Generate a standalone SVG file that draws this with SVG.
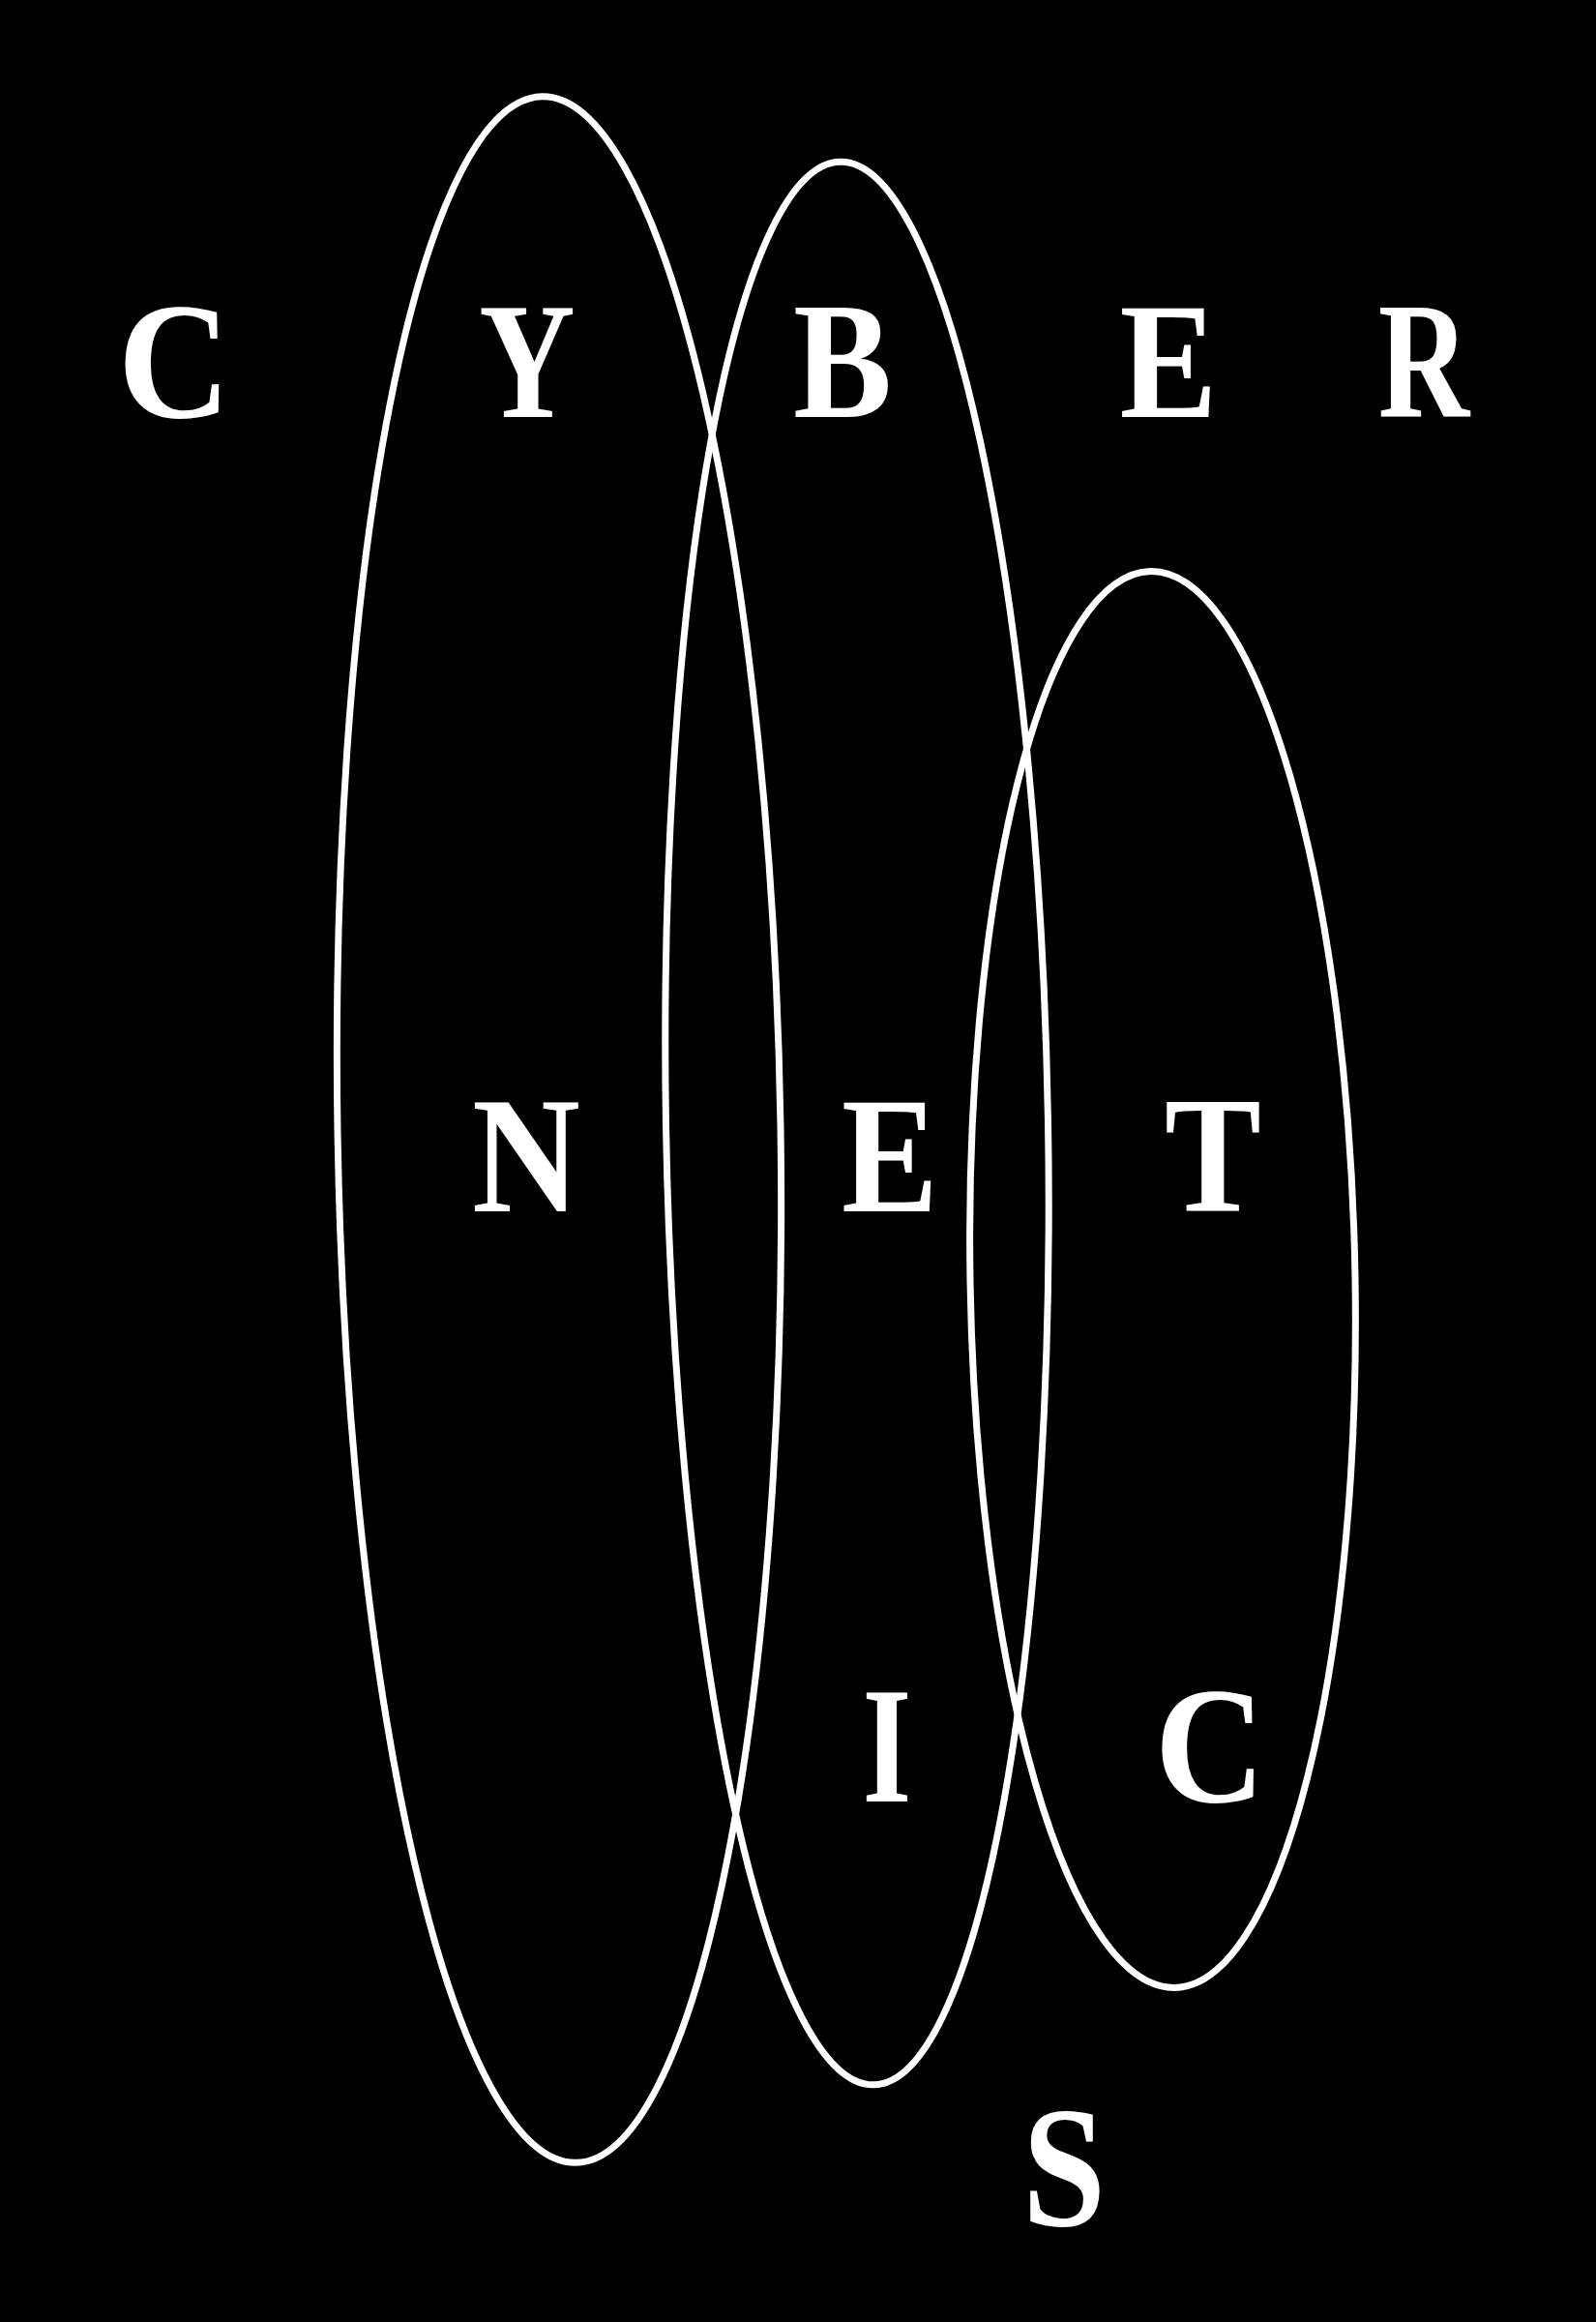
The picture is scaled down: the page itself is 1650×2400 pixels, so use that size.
<svg xmlns="http://www.w3.org/2000/svg" width="1650" height="2400" viewBox="0 0 1650 2400">
  <style>
    .ring { fill: none; stroke: #ffffff; stroke-width: 7; }
    .glyph { fill: #ffffff; font-family: "Liberation Serif", "Times New Roman", serif; font-weight: bold; font-size: 172px; text-anchor: middle; }
  </style>
  <rect x="0" y="0" width="1650" height="2400" fill="#000000"/>
  <g id="rings">
    <ellipse id="ring-1" class="ring" cx="578" cy="1167.5" rx="229" ry="1068" transform="rotate(-0.94 578 1167.5)"/>
    <ellipse id="ring-2" class="ring" cx="886" cy="1161" rx="197.5" ry="994" transform="rotate(-1.0 886 1161)"/>
    <ellipse id="ring-3" class="ring" cx="1202" cy="1322.5" rx="199" ry="732" transform="rotate(-0.98 1202 1322.5)"/>
  </g>
  <g id="letters">
    <g id="l-c1"><text class="glyph" transform="translate(180 431) scale(0.94 1)">C</text></g>
    <g id="l-y"><text class="glyph" transform="translate(545 431) scale(0.8 1)">Y</text></g>
    <g id="l-b"><text class="glyph" transform="translate(871 431) scale(0.89 1)">B</text></g>
    <g id="l-e1"><text class="glyph" transform="translate(1208 431) scale(0.88 1)">E</text></g>
    <g id="l-r"><text class="glyph" transform="translate(1472 431) scale(0.76 1)">R</text></g>
    <g id="l-n"><text class="glyph" transform="translate(544 1252) scale(0.9 1)">N</text></g>
    <g id="l-e2"><text class="glyph" transform="translate(920 1252) scale(0.87 1)">E</text></g>
    <g id="l-t"><text class="glyph" transform="translate(1254 1252) scale(0.87 1)">T</text></g>
    <g id="l-i"><text class="glyph" transform="translate(917 1862) scale(0.76 1)">I</text></g>
    <g id="l-c2"><text class="glyph" transform="translate(1251 1862) scale(0.92 1)">C</text></g>
    <g id="l-s"><text class="glyph" transform="translate(1100 2300) scale(0.9 1.04)">S</text></g>
  </g>
</svg>
